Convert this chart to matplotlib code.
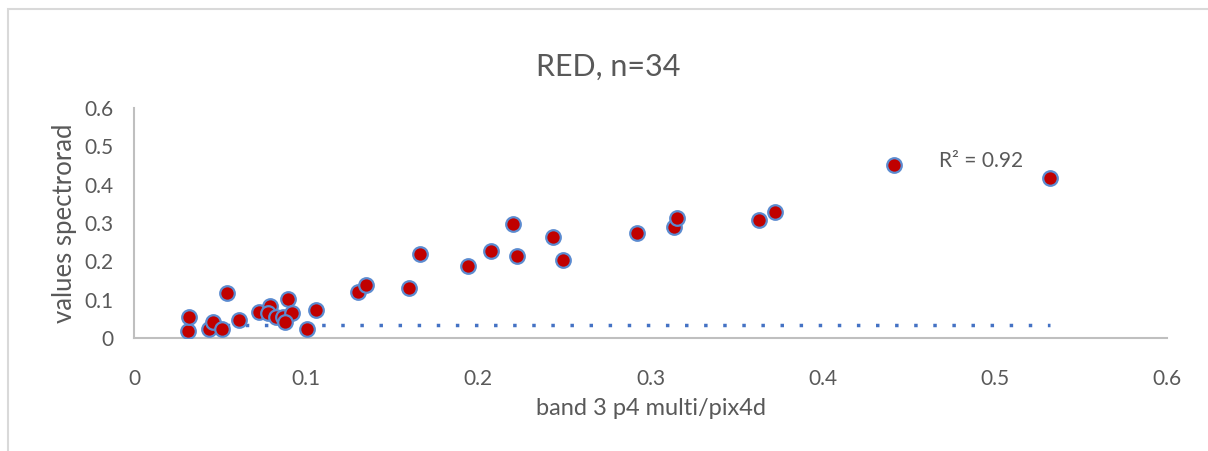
import matplotlib.pyplot as plt
from matplotlib.patches import Rectangle

# band 3 p4 multi/pix4d vs values spectrorad
band3 = [0.0315, 0.0319, 0.0434, 0.0461, 0.0509, 0.0538, 0.0610, 0.0728, 0.0792,
         0.0780, 0.0825, 0.0896, 0.0867, 0.0919, 0.1003, 0.1059, 0.1303, 0.1347,
         0.1599, 0.1663, 0.1940, 0.2071, 0.2203, 0.2226, 0.2431, 0.2493, 0.2919,
         0.3134, 0.3155, 0.3628, 0.3721, 0.4413, 0.5319, 0.0877]
spectrorad = [0.019, 0.0556, 0.0235, 0.0426, 0.0235, 0.118, 0.0462, 0.0687, 0.0843,
              0.066, 0.0548, 0.1018, 0.0556, 0.0645, 0.0227, 0.0739, 0.1209, 0.1384,
              0.1313, 0.2193, 0.1872, 0.2272, 0.2984, 0.2141, 0.2629, 0.2044, 0.2734,
              0.289, 0.3141, 0.3081, 0.3282, 0.4509, 0.417, 0.0418]
trend_x = [min(band3), max(band3)]
trend_y = [0.034, 0.034]
ticks = [0, 0.1, 0.2, 0.3, 0.4, 0.5, 0.6]

plt.rcParams['font.family'] = ['Lato', 'DejaVu Sans']
grey = '#595959'

fig = plt.figure(figsize=(12.08, 4.51), dpi=100)
ax = fig.add_axes([134 / 1208, 1 - 338 / 451, (1167 - 134) / 1208, (338 - 108) / 451])

# chart border
fig.patches.append(Rectangle((8 / 1208, -0.1), 1.2, 1 - 9 / 451 + 0.1, transform=fig.transFigure,
                             fill=False, edgecolor='#D9D9D9', linewidth=1.5))

ax.plot(trend_x, trend_y, linestyle=(0, (1, 4.5)), color='#4472C4', linewidth=2.5,
        dash_capstyle='butt', zorder=2)
ax.scatter(band3, spectrorad, s=110, color='#C00000', edgecolors='#5B8BD0', linewidths=1.6, zorder=3)

ax.set_xlim(0, 0.6)
ax.set_ylim(0, 0.6)
ax.set_xticks(ticks)
ax.set_yticks(ticks)
ax.set_xticklabels([str(t) for t in ticks])
ax.set_yticklabels([str(t) for t in ticks])
ax.tick_params(axis='both', length=0, colors=grey, labelsize=15)
ax.tick_params(axis='x', pad=22.5)
ax.tick_params(axis='y', pad=15)

for s in ['top', 'right']:
    ax.spines[s].set_visible(False)
for s in ['left', 'bottom']:
    ax.spines[s].set_color('#BFBFBF')
    ax.spines[s].set_linewidth(1.5)

ax.set_xlabel('band 3 p4 multi/pix4d', fontsize=17, color=grey, labelpad=6)
ax.set_ylabel('values spectrorad', fontsize=18.5, color=grey, labelpad=5)
fig.text(608 / 1208, 1 - 67 / 451, 'RED, n=34', fontsize=22, color=grey, ha='center', va='center')
ax.text(0.492, 0.462, 'R² = 0.92', fontsize=15, color=grey, ha='center', va='center')

fig.savefig('out.png', dpi=100)
